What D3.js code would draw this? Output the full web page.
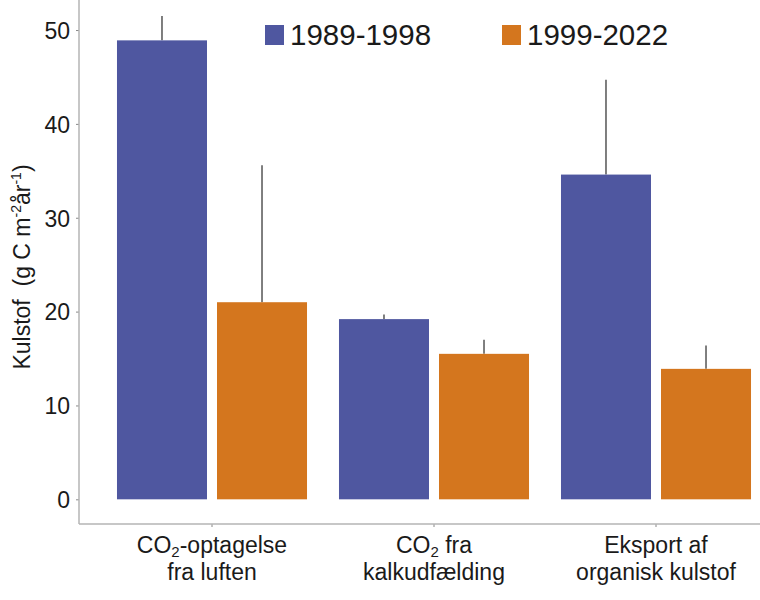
<!DOCTYPE html>
<html>
<head>
<meta charset="utf-8">
<script src="https://cdn.jsdelivr.net/npm/d3@7"></script>
<style>
  html, body { margin: 0; padding: 0; background: #fff; }
  svg { display: block; font-family: "Liberation Sans", Arial, sans-serif; }
</style>
</head>
<body>
<svg id="chart" width="760" height="600"></svg>
<script>
// ---- data ----
const categories = ["co2_air", "co2_lime", "export_org"];
const categoryLines = [
  [["CO", "2", "-optagelse"], ["fra luften"]],
  [["CO", "2", " fra"], ["kalkudfælding"]],
  [["Eksport af"], ["organisk kulstof"]]
];
const series = ["1989-1998", "1999-2022"];
const values1989 = [48.9, 19.2, 34.6];
const values1999 = [21.0, 15.5, 13.9];
const errTop1989 = [51.5, 19.7, 44.7];
const errTop1999 = [35.6, 17.0, 16.4];
const yTicks = [0, 10, 20, 30, 40, 50];
const colors = ["#4F57A0", "#D4761E"];

const seriesValues = [values1989, values1999];
const seriesErr = [errTop1989, errTop1999];

const svg = d3.select("#chart");

const y = d3.scaleLinear().domain([-2.63, 53.2]).range([524, 0]);
const x0 = d3.scaleBand().domain(categories).range([101, 767])
  .paddingInner(0.144).paddingOuter(0.072);
const x1 = d3.scaleBand().domain(series).range([0, x0.bandwidth()]).paddingInner(0.1);

const axisX = 79;
const axisY = 524;

const rows = [];
categories.forEach((c, i) => {
  series.forEach((s, j) => {
    rows.push({cat: c, ser: s, v: seriesValues[j][i], e: seriesErr[j][i], color: colors[j]});
  });
});

// error bars
svg.append("g").selectAll("line").data(rows).join("line")
  .attr("x1", d => x0(d.cat) + x1(d.ser) + x1.bandwidth() / 2)
  .attr("x2", d => x0(d.cat) + x1(d.ser) + x1.bandwidth() / 2)
  .attr("y1", d => y(d.v))
  .attr("y2", d => y(d.e))
  .attr("stroke", "#555")
  .attr("stroke-width", 1.5);

svg.append("g").selectAll("rect").data(rows).join("rect")
  .attr("x", d => x0(d.cat) + x1(d.ser))
  .attr("width", x1.bandwidth())
  .attr("y", d => y(d.v))
  .attr("height", d => y(0) - y(d.v))
  .attr("fill", d => d.color);

// y axis
const yAxis = d3.axisLeft(y).tickValues(yTicks).tickSize(3).tickPadding(6);
const gy = svg.append("g").attr("transform", `translate(${axisX},0)`).call(yAxis);
gy.select(".domain").remove();
gy.append("line").attr("x1", 0).attr("x2", 0).attr("y1", 0).attr("y2", axisY)
  .attr("stroke", "#b5b5b5").attr("stroke-width", 1.5);
gy.selectAll(".tick line").attr("stroke", "#888");
gy.selectAll(".tick text").attr("font-size", 23).attr("fill", "#1a1a1a")
  .attr("font-family", "Liberation Sans, Arial, sans-serif").attr("dy", "0.36em");

// x axis
const xAxis = d3.axisBottom(x0).tickSize(3).tickFormat("");
const gx = svg.append("g").attr("transform", `translate(0,${axisY})`).call(xAxis);
gx.select(".domain").remove();
gx.append("line").attr("x1", axisX).attr("x2", 760).attr("y1", 0).attr("y2", 0)
  .attr("stroke", "#b5b5b5").attr("stroke-width", 1.5);
gx.selectAll(".tick line").attr("stroke", "#888");

// category labels
categories.forEach((c, i) => {
  const cx = x0(c) + x0.bandwidth() / 2;
  const t = svg.append("text").attr("text-anchor", "middle")
    .attr("font-size", 23).attr("fill", "#1a1a1a");
  categoryLines[i].forEach((parts, li) => {
    const line = t.append("tspan").attr("x", cx).attr("y", 553 + li * 27);
    if (parts.length === 3) {
      line.append("tspan").text(parts[0]);
      line.append("tspan").attr("font-size", 15).attr("dy", 4).text(parts[1]);
      line.append("tspan").attr("dy", -4).text(parts[2]);
    } else {
      line.text(parts[0]);
    }
  });
});

// y label
const yl = svg.append("text")
  .attr("transform", "rotate(-90)")
  .attr("x", -267).attr("y", 30)
  .attr("text-anchor", "middle")
  .attr("font-size", 23).attr("fill", "#1a1a1a");
yl.append("tspan").text("Kulstof\u00a0\u00a0(g C m");
yl.append("tspan").attr("font-size", 14).attr("dy", -9).text("-2");
yl.append("tspan").attr("dy", 9).text("år");
yl.append("tspan").attr("font-size", 14).attr("dy", -9).text("-1");
yl.append("tspan").attr("dy", 9).text(")");

// legend
const legendX = [265, 502];
series.forEach((s, j) => {
  svg.append("rect").attr("x", legendX[j]).attr("y", 25).attr("width", 19).attr("height", 20)
    .attr("fill", colors[j]);
  svg.append("text").attr("x", legendX[j] + 25).attr("y", 45)
    .attr("font-size", 29.5).attr("fill", "#1a1a1a").text(s);
});
</script>
</body>
</html>
